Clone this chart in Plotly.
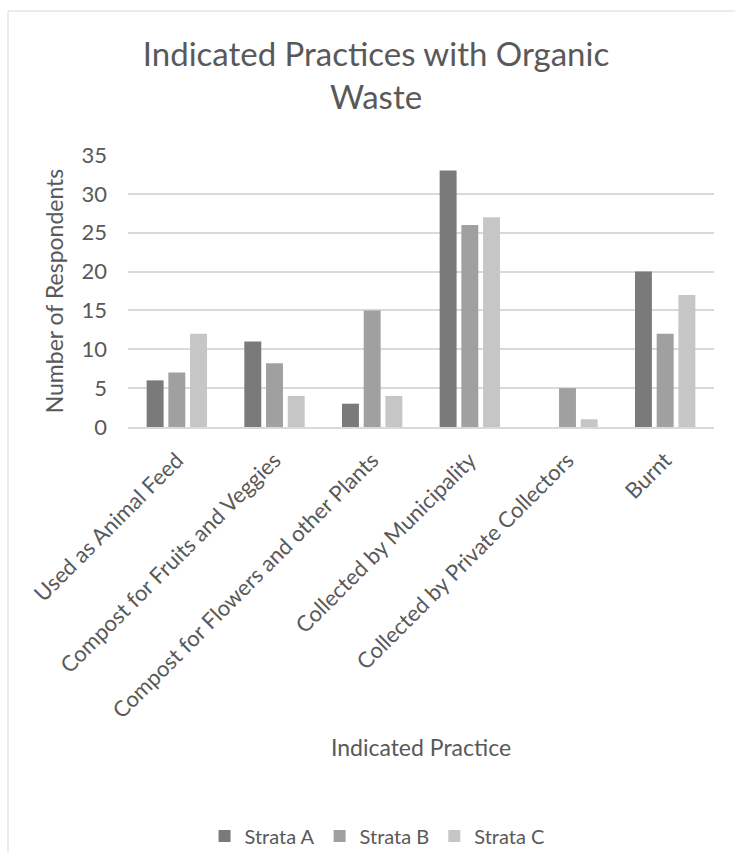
import plotly.graph_objects as go

categories = ["Used as Animal Feed", "Compost for Fruits and Veggies",
              "Compost for Flowers and other Plants", "Collected by Municipality",
              "Collected by Private Collectors", "Burnt"]
strata_a = [6, 11, 3, 33, 0, 20]
strata_b = [7, 8.2, 15, 26, 5, 12]
strata_c = [12, 4, 4, 27, 1, 17]
series_names = ["Strata A", "Strata B", "Strata C"]
y_ticks = [0, 5, 10, 15, 20, 25, 30, 35]

colors = ["#7a7a7a", "#a0a0a0", "#c6c6c6"]
txt = "#595959"
font = "Lato"

fig = go.Figure()
for name, vals, col in zip(series_names, [strata_a, strata_b, strata_c], colors):
    fig.add_trace(go.Bar(x=categories, y=vals, name=name,
                         marker=dict(color=col, line=dict(width=0))))

W, H = 735, 853
L, R, T, B = 128, 714, 155, 427

def px(x):
    return (x - L) / (R - L)

def py(y):
    return (B - y) / (B - T)

fig.update_layout(
    width=W, height=H,
    margin=dict(l=L, r=W - R, t=T, b=H - B, pad=0),
    paper_bgcolor="white", plot_bgcolor="white",
    font=dict(family=font, color=txt, size=20),
    barmode="group", bargap=0.333, bargroupgap=0.22,
    title=dict(text="Indicated Practices with Organic<br>Waste",
               x=376 / W, xanchor="center", xref="container",
               y=1 - 66 / H, yanchor="top", yref="container",
               font=dict(family=font, size=33, color=txt)),
    showlegend=True,
    legend=dict(orientation="h", x=0.513, xref="container", xanchor="center",
                y=1 - 836 / H, yref="container", yanchor="middle",
                font=dict(family=font, size=20, color=txt),
                itemwidth=30, traceorder="normal"),
    xaxis=dict(tickangle=-45, showgrid=False, showline=True,
               linecolor="#d9d9d9", linewidth=1.5, ticks="",
               ticklabelstandoff=10,
               tickfont=dict(family=font, size=22, color=txt),
               title=dict(text="Indicated Practice", standoff=18,
                          font=dict(family=font, size=23, color=txt))),
    yaxis=dict(range=[0, 35], tickvals=y_ticks, showgrid=True,
               gridcolor="#d9d9d9", gridwidth=1.5, zeroline=False,
               showline=False, ticks="", ticklabelstandoff=20,
               tickfont=dict(family=font, size=22, color=txt),
               title=dict(text="Number of Respondents", standoff=11,
                          font=dict(family=font, size=23, color=txt))),
    shapes=[dict(type="rect", xref="paper", yref="paper",
                 x0=px(8), x1=px(745), y0=py(870), y1=py(11),
                 line=dict(color="#d9d9d9", width=1), layer="below")],
)

fig.write_html("out.html")
